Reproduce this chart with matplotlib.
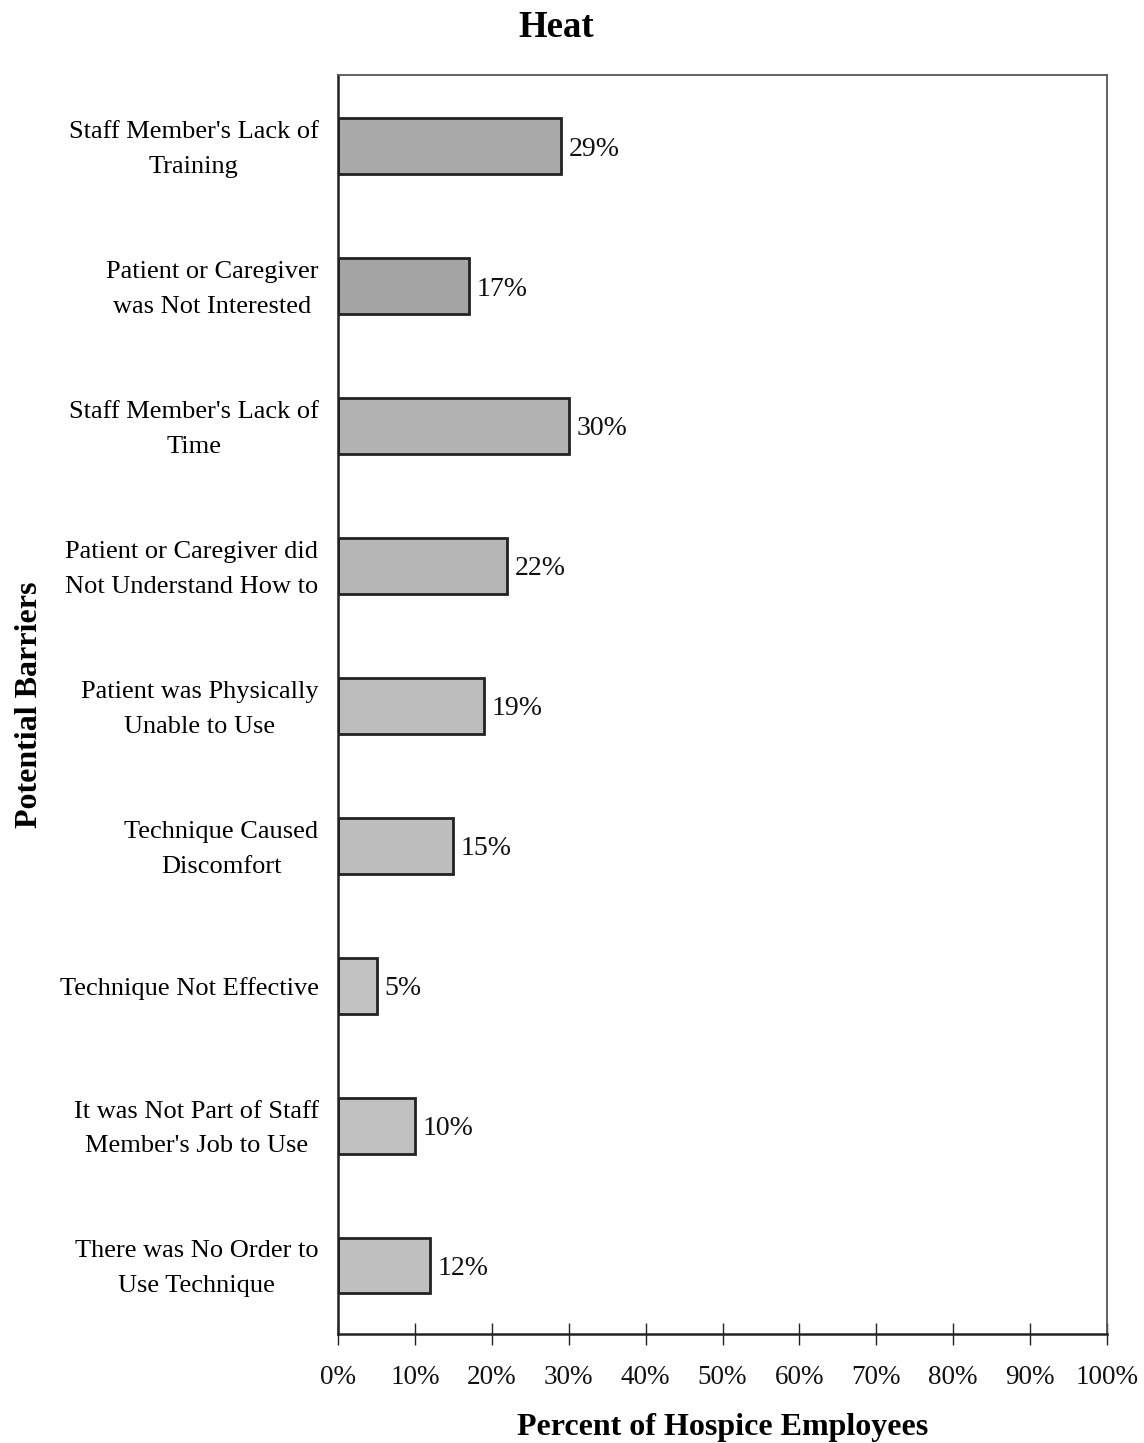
import matplotlib
matplotlib.use("Agg")
import matplotlib.pyplot as plt
import matplotlib.transforms as mtransforms
import numpy as np

categories = [
    "Staff Member's Lack of\nTraining",
    "Patient or Caregiver\nwas Not Interested",
    "Staff Member's Lack of\nTime",
    "Patient or Caregiver did\nNot Understand How to",
    "Patient was Physically\nUnable to Use",
    "Technique Caused\nDiscomfort",
    "Technique Not Effective",
    "It was Not Part of Staff\nMember's Job to Use",
    "There was No Order to\nUse Technique",
]
values = [29, 17, 30, 22, 19, 15, 5, 10, 12]
xticks = [0, 10, 20, 30, 40, 50, 60, 70, 80, 90, 100]
xtick_labels = [f"{t}%" for t in xticks]

bar_colors = ["#a9a9a9", "#a4a4a4", "#b2b2b2", "#b6b6b6", "#bcbcbc",
              "#bdbdbd", "#c2c2c2", "#c0c0c0", "#bfbfbf"]

plt.rcParams['font.family'] = ['Liberation Serif', 'DejaVu Serif']

fig = plt.figure(figsize=(11.44, 14.43), dpi=100)
ax = fig.add_axes([0.2955, 0.0755, 0.6722, 0.8725])

y = np.arange(len(categories))
ax.barh(y, values, height=0.4, color=bar_colors, edgecolor="#222222", linewidth=2.0)

for yi, v in zip(y, values):
    ax.text(v + 1.0, yi + 0.02, f"{v}%", va="center", ha="left", fontsize=20, color="#111111")

ax.set_xlim(0, 100)
ax.set_ylim(8.49, -0.51)
ax.set_xticks(xticks)
ax.set_xticklabels(xtick_labels, fontsize=19.5)
ax.set_yticks(y)
ax.set_yticklabels(categories, fontsize=19, ha="right", multialignment="center",
                   linespacing=1.75)
ax.tick_params(axis="y", length=0, pad=14)
ax.tick_params(axis="x", direction="inout", length=16, width=1, pad=14, colors="#222222", labelcolor="#111111")

shift = mtransforms.ScaledTranslation(0, 4 / 72, fig.dpi_scale_trans)
for lbl in ax.get_yticklabels():
    if "\n" in lbl.get_text():
        lbl.set_transform(lbl.get_transform() + shift)

for side in ["left", "bottom"]:
    ax.spines[side].set_color("#222222")
    ax.spines[side].set_linewidth(1.8)
for side in ["top", "right"]:
    ax.spines[side].set_color("#555555")
    ax.spines[side].set_linewidth(1.3)

ax.set_xlabel("Percent of Hospice Employees", fontsize=23, fontweight="bold", labelpad=17)
ax.set_ylabel("Potential Barriers", fontsize=23, fontweight="bold")
ax.yaxis.set_label_coords(-0.383, 0.5, transform=ax.transAxes)

fig.text(0.486, 0.981, "Heat", ha="center", va="center", fontsize=26.5, fontweight="bold")

fig.savefig("out.png", dpi=100, facecolor="white")
